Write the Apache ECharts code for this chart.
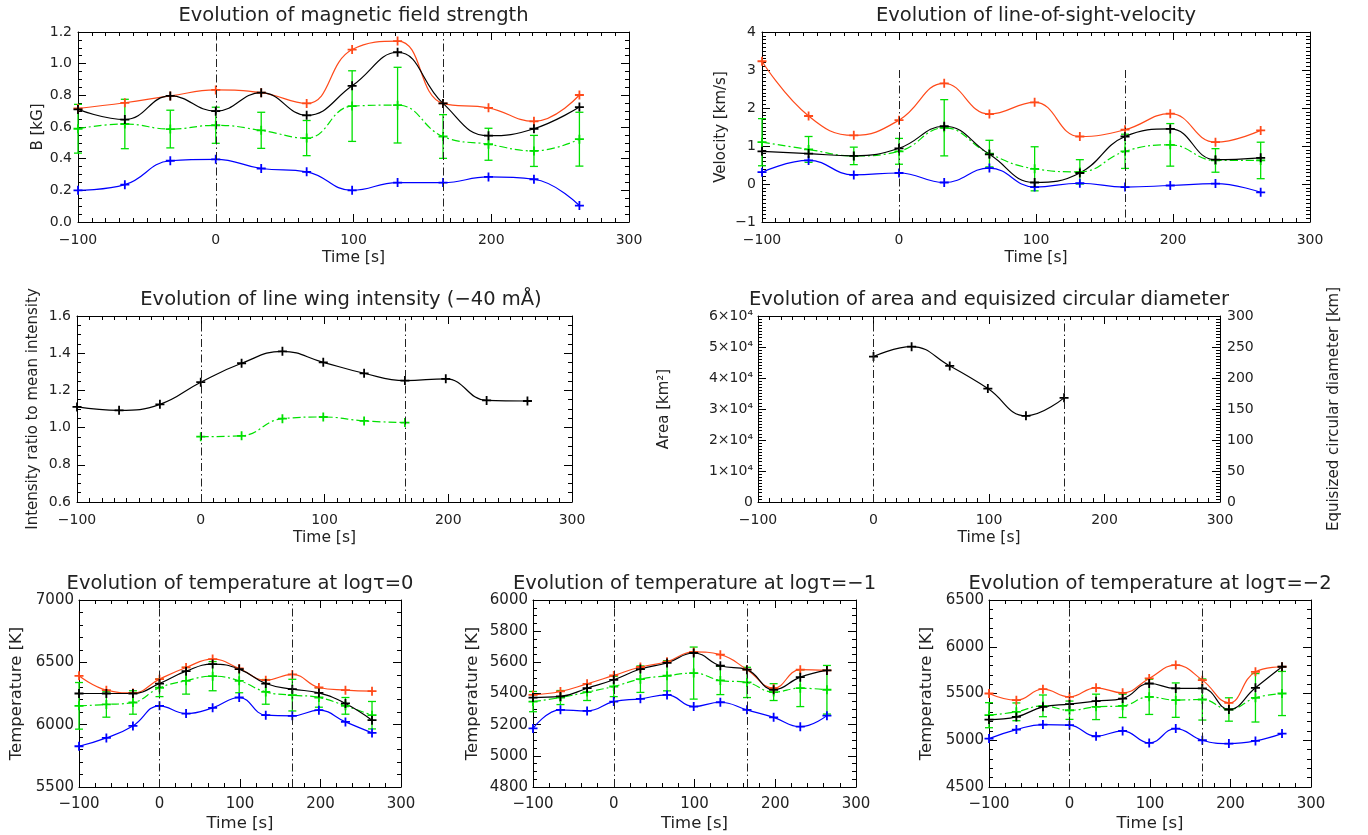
<!DOCTYPE html>
<html><head><meta charset="utf-8">
<script src="https://cdn.jsdelivr.net/npm/echarts@6/dist/echarts.min.js"></script>
<style>html,body{margin:0;padding:0;background:#fff}#c{width:1368px;height:835px}</style>
</head><body><div id="c"></div>
<script>
// ---------------- DATA ----------------
const TIME = [-100,-66,-33,0,33,66,99,132,165,198,231,264];
const TIME_SHORT = [0,33,66,99,132,165];
const MARK_TIMES = [0,165];
const X_TICKS = [-100,0,100,200,300];

// Panel 1: magnetic field strength [kG]
const B_RED   = [0.717,0.753,0.796,0.834,0.817,0.749,1.089,1.143,0.749,0.721,0.636,0.802];
const B_BLACK = [0.711,0.647,0.796,0.700,0.817,0.674,0.860,1.072,0.749,0.545,0.589,0.726];
const B_GREEN = [0.589,0.619,0.587,0.611,0.579,0.530,0.732,0.738,0.540,0.491,0.449,0.523];
const B_GREEN_ERR = [0.154,0.156,0.119,0.114,0.114,0.111,0.223,0.239,0.138,0.101,0.098,0.170];
const B_BLUE  = [0.200,0.236,0.387,0.396,0.338,0.317,0.200,0.249,0.249,0.285,0.270,0.104];
const B_TICKS = [0,0.2,0.4,0.6,0.8,1.0,1.2];

// Panel 2: line-of-sight velocity [km/s]
const V_RED   = [3.23,1.79,1.28,1.68,2.65,1.84,2.15,1.25,1.43,1.85,1.10,1.41];
const V_BLACK = [0.86,0.80,0.74,0.94,1.52,0.78,0.04,0.29,1.25,1.45,0.64,0.69];
const V_GREEN = [1.10,0.91,0.74,0.86,1.48,0.80,0.40,0.32,0.86,1.03,0.62,0.62];
const V_GREEN_ERR = [0.62,0.34,0.23,0.34,0.74,0.35,0.58,0.32,0.45,0.56,0.31,0.48];
const V_BLUE  = [0.31,0.62,0.24,0.29,0.04,0.42,-0.08,0.02,-0.08,-0.04,0.01,-0.22];
const V_TICKS = [-1,0,1,2,3,4];

// Panel 3: line wing intensity ratio
const I_BLACK = [1.111,1.093,1.125,1.244,1.346,1.410,1.351,1.292,1.253,1.262,1.146,1.143];
const I_GREEN = [0.951,0.956,1.048,1.057,1.036,1.027];
const I_TICKS = [0.6,0.8,1.0,1.2,1.4,1.6];

// Panel 4: area [km^2]
const AREA = [46900,50100,43900,36600,27800,33600];
const AREA_TICKS = [0,10000,20000,30000,40000,50000,60000];
const DIAM_TICKS = [0,50,100,150,200,250,300];

// Panels 5-7: temperature [K]
const T0_RED   = [6392,6277,6255,6365,6459,6526,6451,6357,6403,6298,6277,6269];
const T0_BLACK = [6250,6250,6250,6330,6429,6486,6446,6330,6285,6255,6170,6036];
const T0_GREEN = [6151,6162,6178,6296,6352,6389,6352,6263,6237,6218,6151,6076];
const T0_GREEN_ERR = [187,102,94,71,107,117,96,99,127,78,67,110];
const T0_BLUE  = [5827,5894,5990,6151,6089,6135,6218,6076,6071,6116,6022,5934];
const T0_TICKS = [5500,6000,6500,7000];

const T1_RED   = [5391,5413,5462,5516,5570,5604,5667,5649,5553,5434,5553,5548];
const T1_BLACK = [5374,5381,5434,5488,5557,5596,5660,5578,5553,5424,5505,5548];
const T1_GREEN = [5348,5374,5409,5445,5492,5514,5531,5484,5471,5409,5434,5424];
const T1_GREEN_ERR = [65,45,54,65,85,97,167,91,97,54,118,156];
const T1_BLUE  = [5176,5295,5288,5348,5366,5391,5316,5344,5295,5247,5187,5258];
const T1_TICKS = [4800,5000,5200,5400,5600,5800,6000];

const T2_RED   = [5500,5429,5546,5464,5561,5507,5661,5804,5643,5400,5732,5786];
const T2_BLACK = [5221,5250,5357,5386,5418,5446,5607,5554,5554,5329,5561,5786];
const T2_GREEN = [5268,5304,5368,5321,5357,5368,5464,5429,5436,5329,5454,5500];
const T2_GREEN_ERR = [134,95,116,98,136,125,188,184,220,125,259,236];
const T2_BLUE  = [5018,5114,5168,5161,5043,5100,4971,5125,5000,4964,4993,5071];
const T2_TICKS = [4500,5000,5500,6000,6500];

// ---------------- STYLE ----------------
const RED='#ff4a1a', BLACK='#000000', GREEN='#00e000', BLUE='#0000ff';
const FONT='DejaVu Sans', TXT='#222';
const PLUS='path://M4,0h2v4h4v2h-4v4h-2v-4h-4v-2h4z';
const DASHDOT=[8,3,2,3];
const VDASH=[8,3,1.5,3];

const option = {animation:false, backgroundColor:'#fff', textStyle:{fontFamily:FONT},
  grid:[], xAxis:[], yAxis:[], series:[], graphic:[]};

function steps(min,max,step){const o=[];const n=Math.round((max-min)/step);for(let i=0;i<=n;i++)o.push(+(min+i*step).toFixed(6));return o;}
function minus(s){return String(s).replace('-','\u2212');}

function yAx(gi,pos,min,max,ticks,len,showLine,label,extra){
  return Object.assign({type:'value',gridIndex:gi,position:pos,min:min,max:max,
    splitLine:{show:false},minorTick:{show:false},
    axisLine:{show:showLine,onZero:false,lineStyle:{color:'#000',width:1}},
    axisTick:{show:true,inside:true,length:len,customValues:ticks,lineStyle:{color:'#000',width:1}},
    axisLabel: label ? Object.assign({customValues:ticks,color:TXT,fontFamily:FONT},label) : {show:false},
    axisPointer:{show:false}},extra||{});
}
function xAx(gi,pos,minorSplit,label,extra){
  return Object.assign({type:'value',gridIndex:gi,position:pos,min:-100,max:300,interval:100,
    splitLine:{show:false},
    axisLine:{show:true,onZero:false,lineStyle:{color:'#000',width:1}},
    axisTick:{show:true,inside:true,length:8,lineStyle:{color:'#000',width:1}},
    minorTick:{show:true,splitNumber:minorSplit,length:4,lineStyle:{color:'#000',width:1}},
    axisLabel: label ? Object.assign({color:TXT,fontFamily:FONT,formatter:v=>minus(v)},label) : {show:false},
    axisPointer:{show:false}},extra||{});
}

function addPanel(p){
  const gi=option.grid.length;
  const [l,t,w,h]=p.box;
  option.grid.push({left:l,top:t,width:w,height:h,show:false});
  const xi=option.xAxis.length;
  option.xAxis.push(xAx(gi,'bottom',p.xMinor,{fontSize:p.fs,margin:p.xMargin},
    {name:'Time [s]',nameLocation:'middle',nameGap:p.xNameGap,nameTextStyle:{fontSize:p.xnfs,color:TXT,fontFamily:FONT}}));
  option.xAxis.push(xAx(gi,'top',p.xMinor,null));
  const yi=option.yAxis.length;
  const minors=steps(p.yMin,p.yMax,p.yMinor);
  option.yAxis.push(yAx(gi,'left',p.yMin,p.yMax,p.yTicks,8,true,
    {fontSize:p.fs,margin:p.yMargin,formatter:p.yFmt},
    {name:p.yName,nameLocation:'middle',nameGap:p.yNameGap,nameRotate:90,nameTextStyle:{fontSize:p.nfs,color:TXT,fontFamily:FONT}}));
  option.yAxis.push(yAx(gi,'left',p.yMin,p.yMax,minors,4,false,null));
  if(p.right){
    const r=p.right;
    option.yAxis.push(yAx(gi,'right',r.min,r.max,r.ticks,8,true,{fontSize:p.fs,margin:r.margin,formatter:v=>String(v)},
      {name:r.name,nameLocation:'middle',nameGap:r.nameGap,nameRotate:90,nameTextStyle:{fontSize:p.nfs,color:TXT,fontFamily:FONT}}));
    option.yAxis.push(yAx(gi,'right',r.min,r.max,steps(r.min,r.max,r.minor),4,false,null));
  } else {
    option.yAxis.push(yAx(gi,'right',p.yMin,p.yMax,p.yTicks,8,true,null));
    option.yAxis.push(yAx(gi,'right',p.yMin,p.yMax,minors,4,false,null));
  }
  option.graphic.push({type:'text',x:p.titleX!==undefined?p.titleX:l+w/2,y:t-16,silent:true,
    style:{text:p.title,fill:TXT,font:p.tfs+'px "'+FONT+'"',textAlign:'center',textVerticalAlign:'middle'}});
  return {xi,yi,dash:p.dash};
}

function lineS(ax,xs,ys,color,dashed,withMark){
  const s={type:'line',xAxisIndex:ax.xi,yAxisIndex:ax.yi,data:xs.map((x,i)=>[x,ys[i]]),
    smooth:0.45,symbol:PLUS,symbolSize:9,showSymbol:true,silent:true,clip:false,
    lineStyle:{color:color,width:1.2,type:dashed?DASHDOT:'solid'},itemStyle:{color:color},z:3};
  if(withMark){
    s.markLine={silent:true,symbol:['none','none'],label:{show:false},animation:false,
      lineStyle:{color:'#222',width:1,type:VDASH},
      data:MARK_TIMES.map(m=>[{coord:[m,ax.dash[0]]},{coord:[m,ax.dash[1]]}])};
  }
  option.series.push(s);
}
function errS(ax,xs,ys,es){
  option.series.push({type:'custom',xAxisIndex:ax.xi,yAxisIndex:ax.yi,silent:true,z:2,
    data:xs.map((x,i)=>[x,ys[i],es[i]]),encode:{x:0,y:1},
    renderItem:(prm,api)=>{const x=api.value(0),y=api.value(1),e=api.value(2);
      const a=api.coord([x,y+e]),b=api.coord([x,y-e]);const hw=4;
      const st={stroke:GREEN,lineWidth:1.3};
      return {type:'group',children:[
        {type:'line',shape:{x1:a[0],y1:a[1],x2:b[0],y2:b[1]},style:st},
        {type:'line',shape:{x1:a[0]-hw,y1:a[1],x2:a[0]+hw,y2:a[1]},style:st},
        {type:'line',shape:{x1:b[0]-hw,y1:b[1],x2:b[0]+hw,y2:b[1]},style:st}]};}});
}
function fourSeries(ax,red,black,green,gerr,blue){
  lineS(ax,TIME,blue,BLUE,false,false);
  errS(ax,TIME,green,gerr);
  lineS(ax,TIME,green,GREEN,true,false);
  lineS(ax,TIME,red,RED,false,false);
  lineS(ax,TIME,black,BLACK,false,true);
}

// ---------------- PANELS ----------------
const TFS=19.5;
const P1=addPanel({box:[78,32,551,190],title:'Evolution of magnetic field strength',tfs:TFS,fs:14,nfs:15,xnfs:15.5,
  xMinor:10,xMargin:11,xNameGap:28,yMin:0,yMax:1.2,yTicks:B_TICKS,yMinor:0.05,yFmt:v=>v.toFixed(1),
  yMargin:6,yName:'B [kG]',yNameGap:28,dash:[0,1.2]});
fourSeries(P1,B_RED,B_BLACK,B_GREEN,B_GREEN_ERR,B_BLUE);

const P2=addPanel({box:[762,32,548,190],title:'Evolution of line-of-sight-velocity',tfs:TFS,fs:14,nfs:15,xnfs:15.5,
  xMinor:10,xMargin:11,xNameGap:28,yMin:-1,yMax:4,yTicks:V_TICKS,yMinor:0.1,yFmt:v=>minus(v),
  yMargin:6,yName:'Velocity [km/s]',yNameGap:33,dash:[3,-1]});
fourSeries(P2,V_RED,V_BLACK,V_GREEN,V_GREEN_ERR,V_BLUE);

const P3=addPanel({box:[77,316,495,186],title:'Evolution of line wing intensity (\u221240 m\u00c5)',titleX:341,tfs:TFS,fs:14,nfs:15,xnfs:15.5,
  xMinor:10,xMargin:11,xNameGap:28,yMin:0.6,yMax:1.6,yTicks:I_TICKS,yMinor:0.05,yFmt:v=>v.toFixed(1),
  yMargin:6,yName:'Intensity ratio to mean intensity',yNameGap:36,dash:[0.6,1.6]});
lineS(P3,TIME_SHORT,I_GREEN,GREEN,true,false);
lineS(P3,TIME,I_BLACK,BLACK,false,true);

const P4=addPanel({box:[758,316,462,186],title:'Evolution of area and equisized circular diameter',tfs:TFS,fs:14,nfs:15,xnfs:15.5,
  xMinor:10,xMargin:11,xNameGap:28,yMin:0,yMax:60000,yTicks:AREA_TICKS,yMinor:1000,
  yFmt:v=>v===0?'0':(v/10000)+'\u00d710\u2074',yMargin:5,yName:'Area [km\u00b2]',yNameGap:86,
  right:{min:0,max:300,ticks:DIAM_TICKS,minor:5,margin:7,name:'Equisized circular diameter [km]',nameGap:107},
  dash:[0,60000]});
lineS(P4,TIME_SHORT,AREA,BLACK,false,true);

const P5=addPanel({box:[79,600,322,187],title:'Evolution of temperature at log\u03c4=0',tfs:TFS,fs:15,nfs:16.5,xnfs:16.5,
  xMinor:5,xMargin:10,xNameGap:28,yMin:5500,yMax:7000,yTicks:T0_TICKS,yMinor:100,yFmt:v=>String(v),
  yMargin:5,yName:'Temperature [K]',yNameGap:54,dash:[5500,7000]});
fourSeries(P5,T0_RED,T0_BLACK,T0_GREEN,T0_GREEN_ERR,T0_BLUE);

const P6=addPanel({box:[533,600,323,187],title:'Evolution of temperature at log\u03c4=\u22121',tfs:TFS,fs:15,nfs:16.5,xnfs:16.5,
  xMinor:5,xMargin:10,xNameGap:28,yMin:4800,yMax:6000,yTicks:T1_TICKS,yMinor:50,yFmt:v=>String(v),
  yMargin:5,yName:'Temperature [K]',yNameGap:52,dash:[4800,6000]});
fourSeries(P6,T1_RED,T1_BLACK,T1_GREEN,T1_GREEN_ERR,T1_BLUE);

const P7=addPanel({box:[989,600,322,187],title:'Evolution of temperature at log\u03c4=\u22122',tfs:TFS,fs:15,nfs:16.5,xnfs:16.5,
  xMinor:5,xMargin:10,xNameGap:28,yMin:4500,yMax:6500,yTicks:T2_TICKS,yMinor:100,yFmt:v=>String(v),
  yMargin:5,yName:'Temperature [K]',yNameGap:54,dash:[4500,6500]});
fourSeries(P7,T2_RED,T2_BLACK,T2_GREEN,T2_GREEN_ERR,T2_BLUE);

const chart=echarts.init(document.getElementById('c'),null,{renderer:'canvas'});
chart.setOption(option);
</script></body></html>
